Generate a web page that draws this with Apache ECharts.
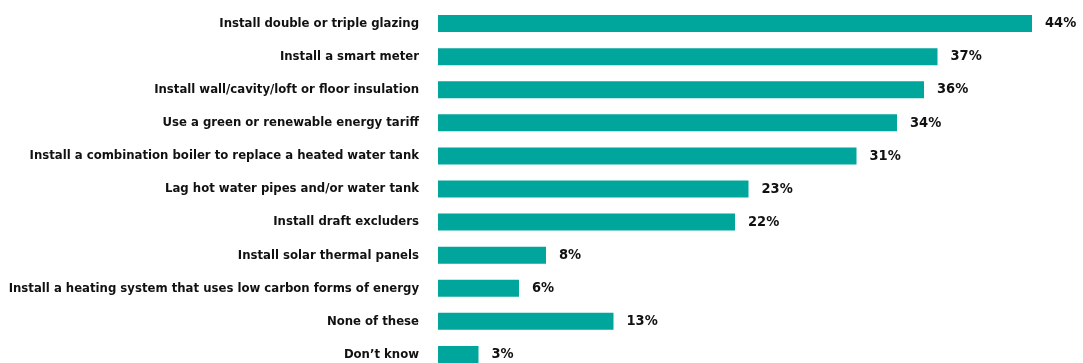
<!DOCTYPE html>
<html>
<head>
<meta charset="utf-8">
<style>
  html, body { margin: 0; padding: 0; background: #ffffff; }
  #chart { width: 1083px; height: 363px; }
</style>
<script src="https://cdn.jsdelivr.net/npm/echarts@6/dist/echarts.min.js"></script>
</head>
<body>
<div id="chart"></div>
<script>
// Energy-saving measures, share of respondents (%)
const categories = [
  'Install double or triple glazing',
  'Install a smart meter',
  'Install wall/cavity/loft or floor insulation',
  'Use a green or renewable energy tariff',
  'Install a combination boiler to replace a heated water tank',
  'Lag hot water pipes and/or water tank',
  'Install draft excluders',
  'Install solar thermal panels',
  'Install a heating system that uses low carbon forms of energy',
  'None of these',
  'Don\u2019t know'
];
const values = [44, 37, 36, 34, 31, 23, 22, 8, 6, 13, 3];

const FONT = '"Liberation Sans Narrow", "DejaVu Sans Condensed", sans-serif';
const chart = echarts.init(document.getElementById('chart'), null, { renderer: 'canvas' });

chart.setOption({
  animation: false,
  grid: {
    left: 438, right: 51, top: 7, bottom: -8,
    containLabel: false,
    outerBoundsMode: 'none'
  },
  xAxis: {
    type: 'value',
    min: 0,
    max: Math.max(...values),
    show: false
  },
  yAxis: {
    type: 'category',
    inverse: true,
    data: categories,
    axisLine: { show: false },
    axisTick: { show: false },
    splitLine: { show: false },
    axisLabel: {
      margin: 19,
      color: '#111111',
      fontFamily: FONT,
      fontWeight: 'bold',
      fontSize: 13
    }
  },
  series: [{
    type: 'bar',
    data: values,
    barWidth: 17,
    itemStyle: { color: '#00a69c' },
    label: {
      show: true,
      position: 'right',
      distance: 13,
      formatter: '{c}%',
      color: '#111111',
      fontFamily: FONT,
      fontWeight: 'bold',
      fontSize: 14.5
    }
  }]
});
</script>
</body>
</html>
